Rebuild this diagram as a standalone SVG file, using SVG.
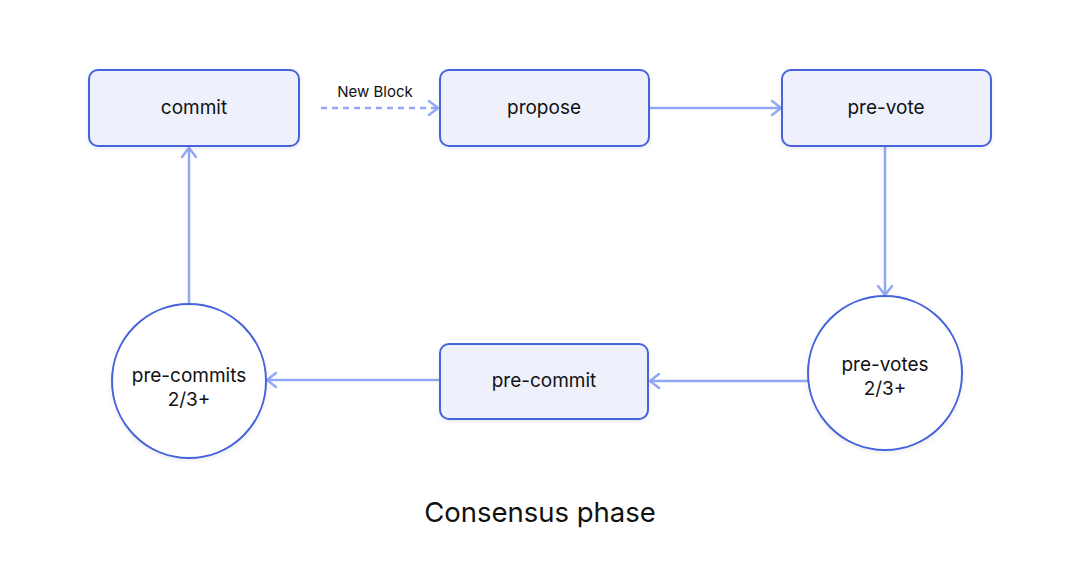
<svg xmlns="http://www.w3.org/2000/svg" width="1080" height="573" viewBox="0 0 1080 573">
<style>
.box{fill:#EEF1FC;stroke:#4664DC;stroke-width:2}
.circ{fill:#FFFFFF;stroke:#4664DC;stroke-width:2}
.lbl{font-family:Inter,"Liberation Sans",sans-serif;font-size:19px;fill:#111;text-anchor:middle}
.edge{stroke:#93A8F4;stroke-width:2.5;fill:none}
.small{font-family:Inter,"Liberation Sans",sans-serif;font-size:15px;fill:#111;text-anchor:middle}
</style>
<defs>
<marker id="arr" viewBox="0 0 12 16" refX="11" refY="8" markerWidth="12" markerHeight="16" markerUnits="userSpaceOnUse" orient="auto">
<path d="M2,1 L11,8 L2,15" fill="none" stroke="#93A8F4" stroke-width="2.5" stroke-linecap="round" stroke-linejoin="round"/>
</marker>
<filter id="sh" x="-10%" y="-10%" width="120%" height="130%">
<feDropShadow dx="0" dy="2" stdDeviation="2" flood-color="#000" flood-opacity="0.08"/>
</filter>
</defs>
<rect width="1080" height="573" fill="#FFFFFF"/>
<g id="connectors">
<path class="edge" d="M321,108 L438,108" stroke-dasharray="6,5" stroke-width="2" marker-end="url(#arr)"/>
<text class="small" x="375" y="97">New Block</text>
<path class="edge" d="M650,108 L781,108" marker-end="url(#arr)"/>
<path class="edge" d="M885,147 L885,295" marker-end="url(#arr)"/>
<path class="edge" d="M808,381 L650,381" marker-end="url(#arr)"/>
<path class="edge" d="M440,380 L267,380" marker-end="url(#arr)"/>
<path class="edge" d="M189,304 L189,148" marker-end="url(#arr)"/>
</g>
<g id="commit">
<rect class="box" x="89" y="70" width="210" height="76" rx="9" filter="url(#sh)"/>
<text class="lbl" x="194" y="114">commit</text>
</g>
<g id="propose">
<rect class="box" x="440" y="70" width="209" height="76" rx="9" filter="url(#sh)"/>
<text class="lbl" x="544" y="114">propose</text>
</g>
<g id="pre-vote">
<rect class="box" x="782" y="70" width="209" height="76" rx="9" filter="url(#sh)"/>
<text class="lbl" x="886" y="114">pre-vote</text>
</g>
<g id="pre-commit">
<rect class="box" x="440" y="344" width="208" height="75" rx="9" filter="url(#sh)"/>
<text class="lbl" x="544" y="387">pre-commit</text>
</g>
<g id="pre-commits">
<circle class="circ" cx="189" cy="381" r="77" filter="url(#sh)"/>
<text class="lbl" x="189" y="382">pre-commits</text>
<text class="lbl" x="189" y="406">2/3+</text>
</g>
<g id="pre-votes">
<circle class="circ" cx="885" cy="373" r="77" filter="url(#sh)"/>
<text class="lbl" x="885" y="371">pre-votes</text>
<text class="lbl" x="885" y="395">2/3+</text>
</g>
<g id="title">
<text x="540" y="522" font-family="Inter,'Liberation Sans',sans-serif" font-size="27.5" fill="#111" text-anchor="middle">Consensus phase</text>
</g>
</svg>
